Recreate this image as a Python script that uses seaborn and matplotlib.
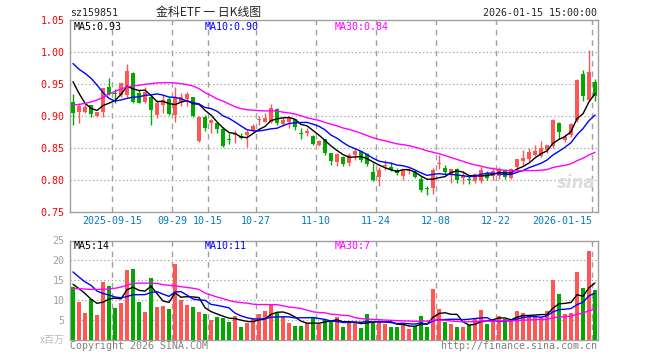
import numpy as np
import pandas as pd
import matplotlib
matplotlib.use("Agg")
import matplotlib.pyplot as plt
import seaborn as sns

# daily candles, 2025-09-04 .. 2026-01-15 (88 trading days)
opens = [0.922, 0.907, 0.906, 0.917, 0.900, 0.907, 0.945, 0.936, 0.933, 0.933,
         0.967, 0.936, 0.922, 0.929, 0.902, 0.917, 0.926, 0.902, 0.922, 0.926,
         0.929, 0.861, 0.899, 0.889, 0.8885, 0.879, 0.864, 0.870, 0.869, 0.870,
         0.878, 0.893, 0.891, 0.891, 0.9104, 0.8875, 0.891, 0.895, 0.873, 0.873,
         0.869, 0.855, 0.8635, 0.842, 0.828, 0.836, 0.8266, 0.8396, 0.845, 0.8406,
         0.8125, 0.8047, 0.8224, 0.820, 0.816, 0.807, 0.8135, 0.8125, 0.8016, 0.7875,
         0.7875, 0.8255, 0.8188, 0.810, 0.817, 0.8036, 0.801, 0.798, 0.798, 0.811,
         0.8057, 0.8057, 0.815, 0.803, 0.8203, 0.829, 0.833, 0.8396, 0.838, 0.8474,
         0.8536, 0.889, 0.863, 0.8708, 0.894, 0.9656, 0.9255, 0.9526]
closes = [0.904, 0.916, 0.914, 0.903, 0.906, 0.943, 0.934, 0.935, 0.951, 0.970,
          0.922, 0.921, 0.938, 0.910, 0.921, 0.925, 0.903, 0.930, 0.929, 0.934,
          0.900, 0.899, 0.882, 0.893, 0.880, 0.853, 0.863, 0.874, 0.866, 0.875,
          0.885, 0.895, 0.897, 0.912, 0.8885, 0.893, 0.898, 0.883, 0.872, 0.877,
          0.857, 0.8615, 0.842, 0.829, 0.841, 0.8255, 0.8396, 0.845, 0.832, 0.825,
          0.7995, 0.816, 0.8235, 0.816, 0.811, 0.815, 0.815, 0.8047, 0.785, 0.7865,
          0.815, 0.827, 0.8125, 0.817, 0.7995, 0.8057, 0.800, 0.810, 0.816, 0.803,
          0.8146, 0.816, 0.805, 0.817, 0.8328, 0.8344, 0.8432, 0.8448, 0.850, 0.855,
          0.8932, 0.8745, 0.867, 0.888, 0.957, 0.9307, 0.968, 0.9307]
highs = [0.934, 0.920, 0.920, 0.917, 0.907, 0.943, 0.960, 0.942, 0.952, 0.981,
         0.968, 0.941, 0.946, 0.935, 0.925, 0.933, 0.929, 0.946, 0.936, 0.938,
         0.930, 0.900, 0.902, 0.895, 0.891, 0.883, 0.874, 0.878, 0.874, 0.878,
         0.8875, 0.900, 0.905, 0.919, 0.912, 0.899, 0.900, 0.896, 0.881, 0.881,
         0.870, 0.863, 0.8635, 0.842, 0.842, 0.838, 0.842, 0.850, 0.846, 0.842,
         0.8266, 0.821, 0.831, 0.8276, 0.819, 0.816, 0.819, 0.816, 0.806, 0.791,
         0.819, 0.8385, 0.823, 0.817, 0.8188, 0.8135, 0.808, 0.811, 0.821, 0.8135,
         0.821, 0.821, 0.817, 0.819, 0.8328, 0.847, 0.850, 0.855, 0.8604, 0.855,
         0.8953, 0.890, 0.8724, 0.889, 0.958, 0.9714, 1.0036, 0.958]
lows = [0.886, 0.889, 0.904, 0.898, 0.899, 0.898, 0.933, 0.921, 0.930, 0.929,
        0.921, 0.920, 0.920, 0.886, 0.897, 0.904, 0.902, 0.891, 0.915, 0.915,
        0.898, 0.860, 0.877, 0.873, 0.873, 0.852, 0.857, 0.858, 0.864, 0.852,
        0.877, 0.886, 0.890, 0.8885, 0.886, 0.884, 0.881, 0.878, 0.8635, 0.868,
        0.855, 0.853, 0.839, 0.824, 0.822, 0.822, 0.822, 0.832, 0.828, 0.822,
        0.798, 0.791, 0.816, 0.8135, 0.808, 0.8005, 0.810, 0.803, 0.781, 0.777,
        0.7786, 0.817, 0.808, 0.795, 0.795, 0.794, 0.793, 0.795, 0.796, 0.8005,
        0.800, 0.801, 0.801, 0.8016, 0.816, 0.824, 0.829, 0.838, 0.836, 0.842,
        0.850, 0.864, 0.859, 0.867, 0.890, 0.923, 0.923, 0.923]
# volume, millions
volumes = [13.2, 9.6, 6.8, 10.3, 6.2, 14.6, 13.5, 8.1, 9.3, 17.6,
           17.8, 9.6, 7.1, 15.5, 8.3, 8.5, 7.8, 19.2, 10.0, 8.9,
           8.2, 7.0, 6.5, 5.1, 5.9, 5.5, 4.4, 6.0, 3.2, 4.2,
           5.3, 6.5, 7.4, 8.8, 6.8, 5.7, 4.2, 3.4, 3.6, 4.2,
           5.8, 4.1, 5.0, 4.8, 5.7, 3.25, 4.3, 4.3, 3.1, 6.5,
           4.4, 4.8, 4.0, 3.3, 3.3, 4.2, 2.8, 3.6, 6.0, 3.25,
           12.75, 7.75, 4.5, 4.0, 3.25, 3.25, 3.8, 5.4, 7.5, 4.0,
           4.8, 6.0, 5.4, 5.2, 7.25, 6.9, 6.1, 5.9, 5.8, 7.25,
           15.0, 11.5, 6.5, 6.9, 17.0, 13.0, 22.25, 12.5]

# moving-average values before a full window exists
ma5_head = [0.9536, 0.9354, 0.920, 0.912]
ma10_head = [0.982, 0.973, 0.9667, 0.959, 0.9484, 0.9365, 0.9276, 0.9234, 0.925]
ma30_head = [0.9172, 0.918, 0.9198, 0.9219, 0.925, 0.929, 0.9344, 0.9385, 0.9422, 0.9453,
             0.9469, 0.948, 0.9495, 0.9505, 0.9516, 0.952, 0.952, 0.9516, 0.9505, 0.949,
             0.9469, 0.9427, 0.9365, 0.932, 0.9266, 0.9234, 0.9188, 0.9146, 0.9115]
vma5_head = [14.0, 12.9, 11.7, 10.25]
vma10_head = [17.1, 15.8, 14.6, 13.75, 12.3, 11.7, 11.3, 10.8, 10.6]
vma30_head = [12.9, 12.9, 12.8, 12.7, 12.7, 12.75, 12.8, 13.0, 13.3, 13.75,
              14.2, 14.3, 14.3, 14.25, 14.2, 13.9, 13.75, 13.6, 13.4, 13.2,
              13.0, 12.7, 11.8, 11.3, 10.8, 10.4, 9.9, 9.6, 9.4]

tick_idx = [7, 17, 23, 31, 41, 51, 61, 71, 87]
tick_labels = ["2025-09-15", "09-29", "10-15", "10-27", "11-10",
               "11-24", "12-08", "12-22", "2026-01-15"]

RED = "#FF5555"
GREEN = "#00A800"
GRID = "#A0A0A0"
MONO = ["DejaVu Sans Mono", "Noto Sans CJK SC"]
CJK = ["Noto Sans CJK SC", "DejaVu Sans"]

sns.set_style("white")
plt.rcParams["font.family"] = MONO


def moving(values, n, head):
    m = pd.Series(values, dtype=float).rolling(n).mean()
    m.iloc[:len(head)] = head
    return m


df = pd.DataFrame({"open": opens, "close": closes, "high": highs, "low": lows,
                   "vol": volumes})
df["i"] = np.arange(len(df))
df["ma5"] = moving(closes, 5, ma5_head)
df["ma10"] = moving(closes, 10, ma10_head)
df["ma30"] = moving(closes, 30, ma30_head)
df["vma5"] = moving(volumes, 5, vma5_head)
df["vma10"] = moving(volumes, 10, vma10_head)
df["vma30"] = moving(volumes, 30, vma30_head)
colors = np.where(df["close"] >= df["open"], RED, GREEN)

W, H = 660, 360
fig = plt.figure(figsize=(W / 100, H / 100), dpi=100)


def fx(px):
    return px / W


def fy(py):
    return 1 - py / H


ax = fig.add_axes([fx(70), fy(212), fx(598) - fx(70), fy(20) - fy(212)])
axv = fig.add_axes([fx(70), fy(340), fx(598) - fx(70), fy(240.5) - fy(340)])

# candles
ax.vlines(df["i"], df["low"], df["high"], colors=colors, lw=1, zorder=3)
body_lo = np.minimum(df["open"], df["close"])
body_h = np.maximum((df["close"] - df["open"]).abs(), 0.0016)
ax.bar(df["i"], body_h, bottom=body_lo, width=0.82, color=colors, lw=0, zorder=3)

sns.lineplot(data=df, x="i", y="ma5", ax=ax, color="black", lw=1, zorder=4)
sns.lineplot(data=df, x="i", y="ma10", ax=ax, color="#0000FF", lw=1, zorder=4)
sns.lineplot(data=df, x="i", y="ma30", ax=ax, color="#FF00FF", lw=1, zorder=4)

# volume
axv.bar(df["i"], df["vol"], width=0.82, color=colors, lw=0, zorder=3)
sns.lineplot(data=df, x="i", y="vma5", ax=axv, color="black", lw=1, zorder=4)
sns.lineplot(data=df, x="i", y="vma10", ax=axv, color="#0000FF", lw=1, zorder=4)
sns.lineplot(data=df, x="i", y="vma30", ax=axv, color="#FF00FF", lw=1, zorder=4)

for a, lo, hi, ticks in [(ax, 0.75, 1.05, [0.75, 0.80, 0.85, 0.90, 0.95, 1.00, 1.05]),
                         (axv, 0, 25, [5, 10, 15, 20, 25])]:
    a.set_xlim(-0.5, len(df) - 0.5)
    a.set_ylim(lo, hi)
    a.set_xticks([])
    a.set_yticks(ticks)
    a.set_xlabel("")
    a.set_ylabel("")
    for s in a.spines.values():
        s.set_color(GRID)
        s.set_linewidth(1)
    for t in ticks[1:-1] if a is ax else ticks[:-1]:
        a.axhline(t, color=GRID, lw=0.9, ls=(0, (1, 2)), zorder=1)
    for k in tick_idx:
        a.axvline(k - 0.5, color=GRID, lw=1, ls=(0, (4, 3.5)), zorder=1)
    a.tick_params(axis="y", length=0, pad=4, labelsize=7.2)

ax.set_yticklabels([f"{t:.2f}" for t in ax.get_yticks()], color="#FF0000")
axv.set_yticklabels([f"{int(t)}" for t in axv.get_yticks()], color="#A0A0A0")

# date labels
for k, lab in zip(tick_idx, tick_labels):
    x = 73 + 6 * (k - 0.5)
    ha = "right" if k == tick_idx[-1] else "center"
    fig.text(fx(x), fy(221), lab, ha=ha, va="center", color="#0078C8", fontsize=7.2)

# header
fig.text(fx(70), fy(12.5), "sz159851", ha="left", va="center", fontsize=7.2)
fig.text(fx(209), fy(12.5), "金科ETF 一 日K线图", ha="center", va="center",
         fontsize=8.6, family=CJK)
fig.text(fx(597), fy(12.5), "2026-01-15 15:00:00", ha="right", va="center", fontsize=7.2)

# MA captions
fig.text(fx(74), fy(27), "MA5:0.93", ha="left", va="center", fontsize=7.2, color="black")
fig.text(fx(205), fy(27), "MA10:0.90", ha="left", va="center", fontsize=7.2, color="#0000FF")
fig.text(fx(335), fy(27), "MA30:0.84", ha="left", va="center", fontsize=7.2, color="#FF00FF")
fig.text(fx(74), fy(246), "MA5:14", ha="left", va="center", fontsize=7.2, color="black")
fig.text(fx(205), fy(246), "MA10:11", ha="left", va="center", fontsize=7.2, color="#0000FF")
fig.text(fx(335), fy(246), "MA30:7", ha="left", va="center", fontsize=7.2, color="#FF00FF")

# watermark and footer
fig.text(fx(576), fy(183), "sina", ha="center", va="center", fontsize=12,
         color="#DDDDDD", style="italic", weight="bold", family="DejaVu Sans")
fig.text(fx(65), fy(340), "x百万", ha="right", va="center", fontsize=7.2,
         color="#BBBBBB", family=CJK)
fig.text(fx(70), fy(346), "Copyright 2026 SINA.COM", ha="left", va="center",
         fontsize=7.2, color="#808080")
fig.text(fx(597), fy(346), "http://finance.sina.com.cn", ha="right", va="center",
         fontsize=7.2, color="#808080")

fig.savefig("out.png", dpi=100, facecolor="white")
